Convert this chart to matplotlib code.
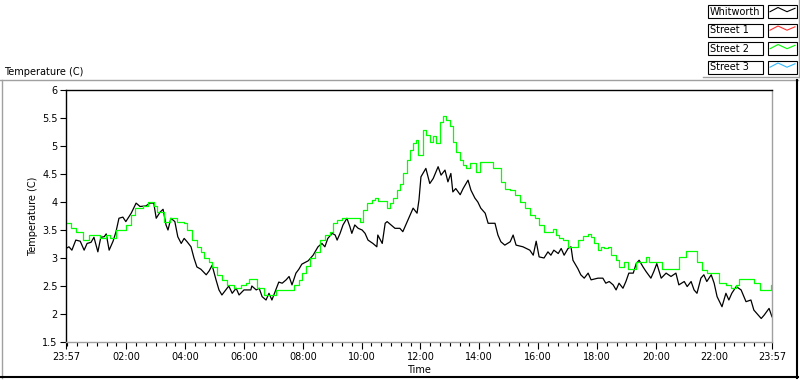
import matplotlib
matplotlib.use("Agg")
import matplotlib.pyplot as plt
from matplotlib.lines import Line2D
from matplotlib.patches import Rectangle

W, H = 800, 380

series_names = ["Whitworth", "Street 1", "Street 2", "Street 3"]
series_colors = ["#000000", "#ff3030", "#00ff00", "#30b8ff"]

# minutes since 23:57
whitworth_min = [0, 6, 12, 20, 29, 37, 43, 51, 57, 65, 71, 78, 82, 88, 96, 102, 108, 116, 122, 133,
                 143, 151, 163, 171, 179, 184, 192, 198, 204, 208, 214, 222, 228, 235, 241, 247, 255,
                 261, 267, 275, 286, 292, 298, 306, 312, 318, 326, 332, 339, 347, 353, 363, 377, 379,
                 388, 394, 400, 408, 414, 420, 428, 434, 441, 449, 455, 461, 469, 475, 481, 494, 504,
                 514, 522, 528, 534, 543, 549, 553, 559, 565, 573, 579, 583, 589, 596, 604, 610, 616,
                 626, 634, 636, 645, 651, 655, 671, 681, 687, 696, 702, 708, 716, 720, 724, 734, 742,
                 749, 759, 765, 773, 779, 785, 789, 795, 804, 810, 820, 826, 834, 840, 846, 855, 861,
                 875, 881, 887, 895, 906, 912, 918, 932, 946, 953, 959, 965, 975, 983, 989, 995, 1004,
                 1010, 1016, 1024, 1030, 1034, 1044, 1050, 1057, 1065, 1071, 1085, 1095, 1101, 1108,
                 1116, 1122, 1128, 1136, 1142, 1148, 1157, 1163, 1169, 1177, 1183, 1193, 1199, 1205,
                 1214, 1224, 1234, 1244, 1250, 1261, 1267, 1275, 1281, 1287, 1295, 1301, 1307, 1316,
                 1322, 1328, 1338, 1346, 1352, 1358, 1367, 1377, 1387, 1397, 1403, 1409, 1418, 1424,
                 1434, 1440]
whitworth_temp = [3.17, 3.2, 3.14, 3.32, 3.3, 3.14, 3.26, 3.28, 3.37, 3.11, 3.37, 3.38, 3.43, 3.14,
                  3.3, 3.47, 3.71, 3.73, 3.65, 3.8, 3.98, 3.92, 3.93, 3.98, 3.98, 3.71, 3.82, 3.87,
                  3.59, 3.5, 3.71, 3.65, 3.38, 3.26, 3.35, 3.29, 3.2, 3.0, 2.84, 2.8, 2.7, 2.77, 2.87,
                  2.61, 2.43, 2.34, 2.43, 2.5, 2.37, 2.46, 2.34, 2.43, 2.43, 2.5, 2.43, 2.46, 2.31,
                  2.25, 2.37, 2.25, 2.43, 2.57, 2.55, 2.61, 2.67, 2.52, 2.73, 2.8, 2.89, 2.95, 3.05,
                  3.2, 3.26, 3.2, 3.35, 3.44, 3.41, 3.32, 3.44, 3.59, 3.71, 3.56, 3.44, 3.59, 3.53,
                  3.5, 3.44, 3.32, 3.26, 3.2, 3.41, 3.26, 3.62, 3.65, 3.53, 3.53, 3.47, 3.65, 3.77,
                  3.89, 3.8, 4.04, 4.45, 4.6, 4.33, 4.42, 4.63, 4.48, 4.57, 4.36, 4.51, 4.18, 4.24,
                  4.13, 4.24, 4.39, 4.21, 4.07, 4.0, 3.89, 3.8, 3.62, 3.62, 3.41, 3.29, 3.23, 3.29,
                  3.41, 3.23, 3.2, 3.14, 3.05, 3.3, 3.02, 3.0, 3.11, 3.05, 3.14, 3.08, 3.17, 3.05,
                  3.17, 3.2, 2.96, 2.81, 2.7, 2.64, 2.73, 2.61, 2.64, 2.64, 2.55, 2.58, 2.52, 2.43,
                  2.55, 2.46, 2.58, 2.73, 2.73, 2.9, 2.96, 2.84, 2.76, 2.64, 2.76, 2.9, 2.64, 2.73,
                  2.67, 2.73, 2.52, 2.58, 2.49, 2.58, 2.43, 2.37, 2.64, 2.7, 2.58, 2.7, 2.55, 2.31,
                  2.13, 2.37, 2.25, 2.37, 2.49, 2.43, 2.22, 2.25, 2.07, 2.01, 1.92, 1.98, 2.1, 1.95]

street2_min = [0, 10, 20, 35, 47, 69, 82, 90, 102, 122, 133, 141, 157, 167, 179, 186, 200, 212, 226,
               241, 247, 257, 267, 275, 281, 292, 298, 308, 318, 328, 343, 357, 367, 373, 390, 404,
               428, 465, 475, 481, 490, 498, 508, 518, 528, 538, 545, 553, 563, 600, 606, 614, 624,
               630, 636, 655, 661, 667, 675, 681, 687, 696, 702, 708, 714, 718, 724, 728, 734, 742,
               749, 755, 763, 769, 775, 783, 789, 795, 804, 810, 816, 824, 836, 844, 871, 887, 895,
               906, 916, 926, 936, 946, 957, 965, 975, 993, 999, 1006, 1014, 1024, 1044, 1055, 1065,
               1071, 1077, 1085, 1091, 1097, 1106, 1112, 1122, 1128, 1138, 1146, 1163, 1183, 1189,
               1216, 1250, 1265, 1287, 1297, 1307, 1332, 1346, 1356, 1367, 1373, 1403, 1416, 1438,
               1440]
street2_temp = [3.62, 3.53, 3.47, 3.32, 3.41, 3.35, 3.41, 3.35, 3.5, 3.59, 3.77, 3.89, 3.92, 4.0,
                3.92, 3.83, 3.65, 3.71, 3.65, 3.62, 3.5, 3.32, 3.2, 3.11, 3.0, 2.93, 2.84, 2.7,
                2.61, 2.52, 2.46, 2.52, 2.55, 2.62, 2.46, 2.34, 2.43, 2.52, 2.6, 2.73, 2.85, 3.0,
                3.11, 3.32, 3.41, 3.47, 3.62, 3.68, 3.71, 3.65, 3.86, 3.98, 4.04, 4.08, 4.02, 3.89,
                3.98, 4.07, 4.21, 4.33, 4.51, 4.75, 4.93, 5.05, 5.1, 4.84, 4.84, 5.29, 5.2, 5.08,
                5.17, 5.05, 5.43, 5.54, 5.46, 5.35, 5.08, 4.9, 4.75, 4.66, 4.6, 4.69, 4.54, 4.71,
                4.6, 4.36, 4.24, 4.21, 4.13, 4.0, 3.89, 3.77, 3.71, 3.59, 3.47, 3.51, 3.41, 3.35,
                3.32, 3.2, 3.32, 3.39, 3.43, 3.38, 3.26, 3.14, 3.2, 3.17, 3.2, 3.05, 2.96, 2.84,
                2.93, 2.81, 2.93, 3.01, 2.92, 2.81, 3.01, 3.13, 2.93, 2.79, 2.73, 2.55, 2.52, 2.46,
                2.52, 2.62, 2.56, 2.42, 2.52, 2.52]

y_ticks = [1.5, 2, 2.5, 3, 3.5, 4, 4.5, 5, 5.5, 6]
x_tick_labels = ["23:57", "02:00", "04:00", "06:00", "08:00", "10:00", "12:00",
                 "14:00", "16:00", "18:00", "20:00", "22:00", "23:57"]
x_ticks = [0] + [123 + 120 * k for k in range(11)] + [1440]
x_minor = list(range(3, 1440, 20))

FS = 7


def fx(px):
    return px / W


def fy(py):
    return 1 - py / H


def fig_line(fig, xs, ys, color, lw=1.0):
    fig.add_artist(Line2D([fx(x) for x in xs], [fy(y) for y in ys],
                          color=color, lw=lw, transform=fig.transFigure))


fig = plt.figure(figsize=(W / 100, H / 100), dpi=100)
fig.patch.set_facecolor("white")

ax = fig.add_axes([fx(66), fy(342), 706 / W, 252 / H])
ax.plot(whitworth_min, whitworth_temp, color=series_colors[0], lw=0.9)
ax.plot(street2_min, street2_temp, color=series_colors[2], lw=0.9, drawstyle="steps-post")

ax.set_xlim(0, 1440)
ax.set_ylim(1.5, 6)
ax.set_yticks(y_ticks)
ax.set_yticklabels([f"{v:g}" for v in y_ticks])
ax.set_xticks(x_ticks)
ax.set_xticklabels(x_tick_labels)
ax.set_xticks(x_minor, minor=True)
ax.tick_params(axis="both", labelsize=FS, colors="black", width=0.8, pad=2)
ax.tick_params(axis="y", length=4)
ax.tick_params(axis="x", which="major", length=5)
ax.tick_params(axis="x", which="minor", length=3, width=0.8)
for side, col in (("left", "black"), ("top", "black"), ("right", "#a0a0a0"), ("bottom", "#a0a0a0")):
    ax.spines[side].set_color(col)
    ax.spines[side].set_linewidth(1.0)

fig.text(fx(33), fy(216), "Temperature (C)", rotation=90, ha="center", va="center", fontsize=FS)
fig.text(fx(419), fy(370), "Time", ha="center", va="center", fontsize=FS)
fig.text(fx(4), fy(72), "Temperature (C)", ha="left", va="center", fontsize=FS)

# panel frame
fig_line(fig, [0, 798], [80, 80], "#a0a0a0")
fig_line(fig, [1.5, 1.5], [80, 378], "#a0a0a0")
fig_line(fig, [0, 798], [377, 377], "black", lw=1.5)
fig_line(fig, [797, 797], [80, 378], "black", lw=1.5)

# legend
fig_line(fig, [798.5, 798.5], [0, 77], "#a0a0a0")
fig_line(fig, [703, 799], [77, 77], "#a0a0a0")
for i, (name, col) in enumerate(zip(series_names, series_colors)):
    top = 5 + i * 18.5
    fig.add_artist(Rectangle((fx(708), fy(top + 13)), 55 / W, 13 / H, fill=False,
                             edgecolor="black", lw=0.8, transform=fig.transFigure))
    fig.add_artist(Rectangle((fx(768), fy(top + 13)), 29 / W, 13 / H, fill=False,
                             edgecolor="black", lw=0.8, transform=fig.transFigure))
    fig.text(fx(710), fy(top + 6.8), name, ha="left", va="center", fontsize=FS)
    fig_line(fig, [770, 778, 787, 795], [top + 6.7, top + 2.5, top + 6.7, top + 3.3], col, lw=0.8)

fig.savefig("out.png", dpi=100)
